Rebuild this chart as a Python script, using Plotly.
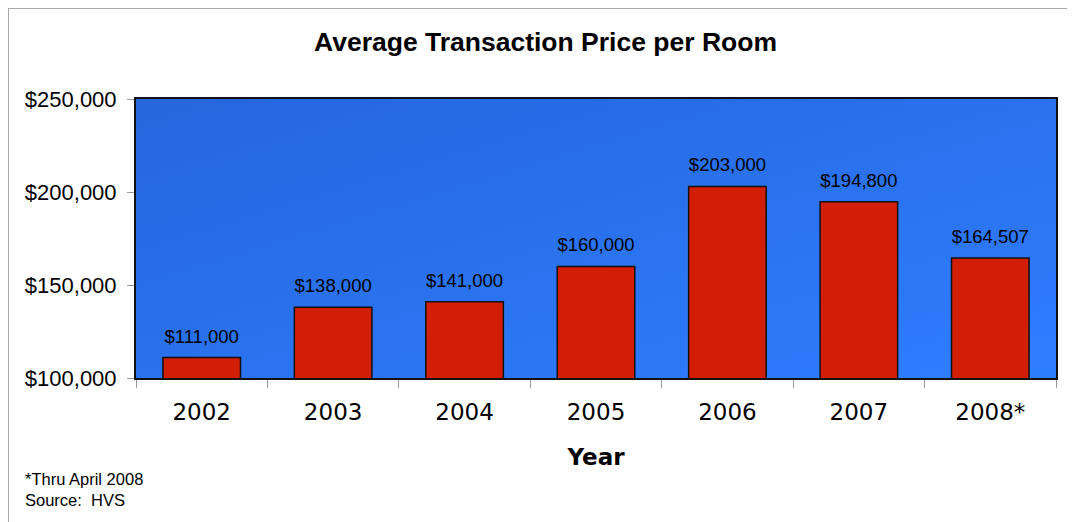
import plotly.graph_objects as go

years = ["2002", "2003", "2004", "2005", "2006", "2007", "2008*"]
prices = [111000, 138000, 141000, 160000, 203000, 194800, 164507]
price_labels = ["$111,000", "$138,000", "$141,000", "$160,000", "$203,000", "$194,800", "$164,507"]
y_ticks = [100000, 150000, 200000, 250000]
y_tick_labels = ["$100,000", "$150,000", "$200,000", "$250,000"]

OFF = 8  # default page body margin
W, H = 1075 - OFF, 522 - OFF
PX0, PX1, PY0, PY1 = 136 - OFF, 1056 - OFF, 99 - OFF, 378 - OFF  # plot area in figure px
L, R, T, B = PX0, W - PX1, PY0, H - PY1
PW, PH = PX1 - PX0, PY1 - PY0


def px_x(x):
    return (x - OFF - PX0) / PW


def px_y(y):
    return (PY1 - (y - OFF)) / PH


bg_svg = (
    "data:image/svg+xml;utf8,"
    "<svg xmlns='http://www.w3.org/2000/svg' width='920' height='279' preserveAspectRatio='none'>"
    "<defs><linearGradient id='g' x1='0' y1='0' x2='1' y2='1'>"
    "<stop offset='0' stop-color='%232566dc'/>"
    "<stop offset='1' stop-color='%232f7dff'/>"
    "</linearGradient></defs>"
    "<rect width='920' height='279' fill='url(%23g)'/></svg>"
)

fig = go.Figure()
fig.add_trace(
    go.Bar(
        x=years,
        y=prices,
        width=0.59,
        marker=dict(color="#d21e04", line=dict(color="#111111", width=1.5)),
        hoverinfo="skip",
    )
)
fig.add_trace(
    go.Scatter(
        x=years,
        y=prices,
        mode="markers+text",
        text=price_labels,
        textposition="top center",
        textfont=dict(family="Liberation Sans, Arial", size=18.5, color="black"),
        marker=dict(size=15, opacity=0),
        cliponaxis=False,
        hoverinfo="skip",
    )
)

fig.update_layout(
    width=W,
    height=H,
    margin=dict(l=L, r=R, t=T, b=B),
    paper_bgcolor="white",
    plot_bgcolor="#2a70e8",
    showlegend=False,
    title=dict(
        text="<b>Average Transaction Price per Room</b>",
        font=dict(family="Liberation Sans, Arial", size=26.5, color="black"),
        x=(545.5 - OFF) / W,
        xanchor="center",
        y=1 - (42 - OFF) / H,
        yanchor="middle",
        yref="container",
    ),
    xaxis=dict(
        type="category",
        tickson="boundaries",
        ticks="outside",
        ticklen=8,
        tickcolor="#999999",
        tickfont=dict(family="DejaVu Sans", size=23, color="black"),
        ticklabelstandoff=12,
        showline=True,
        linecolor="#111111",
        linewidth=2,
        mirror=True,
        showgrid=False,
        title=dict(
            text="<b>Year</b>",
            font=dict(family="DejaVu Sans", size=23, color="black"),
            standoff=25,
        ),
    ),
    yaxis=dict(
        range=[100000, 250000],
        tickvals=y_ticks,
        ticktext=y_tick_labels,
        ticks="outside",
        ticklen=7,
        tickcolor="#999999",
        tickfont=dict(family="Liberation Sans, Arial", size=22, color="black"),
        ticklabelstandoff=6,
        showline=True,
        linecolor="#111111",
        linewidth=2,
        mirror=True,
        showgrid=False,
        zeroline=False,
    ),
    images=[
        dict(
            source=bg_svg,
            xref="x domain",
            yref="y domain",
            x=0,
            y=1,
            sizex=1,
            sizey=1,
            sizing="stretch",
            xanchor="left",
            yanchor="top",
            layer="below",
        )
    ],
    annotations=[
        dict(
            text="*Thru April 2008<br>Source:  HVS",
            xref="paper",
            yref="paper",
            x=px_x(23),
            y=px_y(468),
            xanchor="left",
            yanchor="top",
            align="left",
            showarrow=False,
            font=dict(family="Liberation Sans, Arial", size=16.5, color="black"),
        )
    ],
    shapes=[
        dict(type="line", xref="paper", yref="paper",
             x0=px_x(8), x1=px_x(8), y0=px_y(8), y1=px_y(540),
             line=dict(color="#a8a8a8", width=2)),
        dict(type="line", xref="paper", yref="paper",
             x0=px_x(7), x1=px_x(1090), y0=px_y(8), y1=px_y(8),
             line=dict(color="#a8a8a8", width=2)),
    ],
)

fig.write_html("out.html")
